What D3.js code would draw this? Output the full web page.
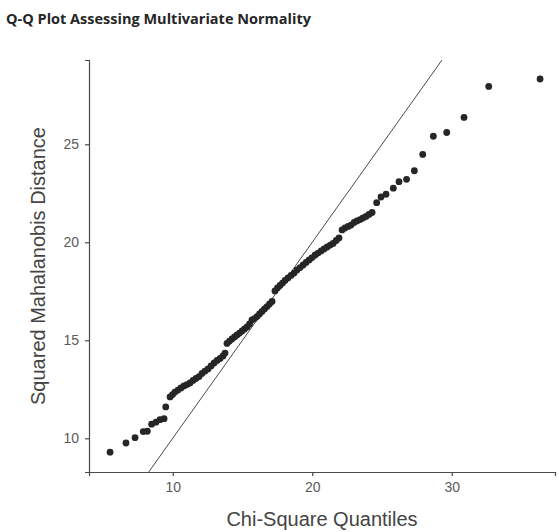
<!DOCTYPE html>
<html>
<head>
<meta charset="utf-8">
<script src="https://cdn.jsdelivr.net/npm/d3@7"></script>
<style>
  body{margin:0;background:#fff;}
  #chart{width:559px;height:532px;}
</style>
</head>
<body>
<div id="chart"></div>
<script>
// chi-square quantiles (x)
var chi_quantiles = [
  5.51, 6.65, 7.30, 7.89, 8.18, 8.49, 8.80, 9.09, 9.38, 9.50,
  9.81, 9.99, 10.16, 10.38, 10.59, 10.81, 11.02, 11.24, 11.46, 11.67,
  11.89, 12.10, 12.32, 12.53, 12.75, 12.97, 13.18, 13.40, 13.61, 13.75,
  13.89, 14.07, 14.25, 14.43, 14.61, 14.79, 14.97, 15.15, 15.33, 15.51,
  15.68, 15.86, 16.04, 16.22, 16.40, 16.58, 16.76, 16.94, 17.12,
  17.33, 17.51, 17.69, 17.87, 18.05, 18.26, 18.48, 18.70, 18.91, 19.13,
  19.35, 19.56, 19.78, 19.99, 20.21, 20.42, 20.64, 20.85, 21.07, 21.29,
  21.50, 21.72, 21.92,
  22.14, 22.35, 22.57, 22.78, 23.00, 23.21, 23.43, 23.64, 23.86, 24.07, 24.29,
  24.62, 24.93, 25.29, 25.81, 26.22, 26.76, 27.32, 27.92, 28.68, 29.64,
  30.88, 32.65, 36.33
]
// sorted squared mahalanobis distances (y)
var mahal_dist = [
  9.29, 9.76, 10.03, 10.34, 10.36, 10.72, 10.82, 10.95, 11.00, 11.60,
  12.11, 12.23, 12.36, 12.46, 12.57, 12.67, 12.74, 12.82, 12.95, 13.05,
  13.15, 13.31, 13.43, 13.54, 13.69, 13.84, 13.97, 14.07, 14.20, 14.35,
  14.84, 14.96, 15.07, 15.17, 15.27, 15.37, 15.48, 15.58, 15.68, 15.83,
  16.04, 16.11, 16.21, 16.34, 16.47, 16.60, 16.72, 16.85, 16.98,
  17.52, 17.67, 17.80, 17.92, 18.05, 18.18, 18.31, 18.43, 18.59, 18.71,
  18.84, 18.97, 19.10, 19.22, 19.35, 19.45, 19.56, 19.66, 19.76, 19.86,
  19.94, 20.09, 20.22,
  20.63, 20.73, 20.81, 20.88, 21.01, 21.09, 21.16, 21.24, 21.32, 21.42, 21.52,
  22.02, 22.31, 22.45, 22.76, 23.09, 23.21, 23.65, 24.48, 25.41, 25.60,
  26.37, 27.95, 28.33
]
var x_ticks = [10, 20, 30]
var y_ticks = [10, 15, 20, 25]
// reference line y = intercept + slope * x
var ref_line = [0, 1]

var title_text = "Q-Q Plot Assessing Multivariate Normality"
var x_title = "Chi-Square Quantiles"
var y_title = "Squared Mahalanobis Distance"

var data = chi_quantiles.map(function(d, i){ return {x: d, y: mahal_dist[i]} })

const margin = {top: 60, right: 4, bottom: 60, left: 89},
    width = 559 - margin.left - margin.right,
    height = 532 - margin.top - margin.bottom;

const svg_root = d3.select("#chart")
  .append("svg")
    .attr("width", 559)
    .attr("height", 532)

// title
svg_root.append("text")
    .attr("x", 6)
    .attr("y", 24)
    .attr("textLength", 305)
    .attr("lengthAdjust", "spacingAndGlyphs")
    .style("font-family", "'Open Sans', sans-serif")
    .style("font-size", "14px")
    .style("font-weight", "bold")
    .style("fill", "#262626")
    .text(title_text)

const svg = svg_root.append("g")
    .attr("transform", `translate(${margin.left}, ${margin.top})`);

const x = d3.scaleLinear()
  .domain([4.0, 37.4])
  .range([0, width])

const y = d3.scaleLinear()
  .domain([8.28, 29.3])
  .range([height, 0])

svg.append("defs").append("clipPath").attr("id", "clip")
  .append("rect").attr("width", width).attr("height", height)

// reference line
var ends = y.domain().map(function(v){ return (v - ref_line[0]) / ref_line[1] })
svg.append("line")
    .attr("clip-path", "url(#clip)")
    .attr("x1", x(ends[0]))
    .attr("y1", y(ref_line[0] + ref_line[1]*ends[0]))
    .attr("x2", x(ends[1]))
    .attr("y2", y(ref_line[0] + ref_line[1]*ends[1]))
    .attr("stroke", "#4a4a4a")
    .attr("stroke-width", 1)

// points
svg.selectAll("circle")
  .data(data)
  .join("circle")
    .attr("cx", d => x(d.x))
    .attr("cy", d => y(d.y))
    .attr("r", 3.4)
    .attr("fill", "#262626")

// axes
const xAxisG = svg.append("g")
    .attr("transform", `translate(0, ${height})`)
    .call(d3.axisBottom(x).tickValues(x_ticks).tickSize(4).tickPadding(6))
const yAxisG = svg.append("g")
    .call(d3.axisLeft(y).tickValues(y_ticks).tickSize(4).tickPadding(6))

;[xAxisG, yAxisG].forEach(function(g){
    g.select(".domain").attr("stroke", "#4a4a4a").attr("stroke-width", 1.2)
    g.selectAll(".tick line").attr("stroke", "#4a4a4a").attr("stroke-width", 1.2)
    g.selectAll(".tick text")
      .style("font-family", "'Liberation Sans', Arial, sans-serif")
      .style("font-size", "14px")
      .style("fill", "#5a5a5a")
})

// axis titles
svg.append("text")
    .attr("x", width/2)
    .attr("y", height + 54)
    .attr("text-anchor", "middle")
    .style("font-family", "'Liberation Sans', Arial, sans-serif")
    .style("font-size", "20px")
    .style("fill", "#444")
    .text(x_title)

svg.append("text")
    .attr("transform", `translate(${-margin.left + 45}, ${height/2}) rotate(-90)`)
    .attr("text-anchor", "middle")
    .style("font-family", "'Liberation Sans', Arial, sans-serif")
    .style("font-size", "20px")
    .style("fill", "#444")
    .text(y_title)
</script>
</body>
</html>
